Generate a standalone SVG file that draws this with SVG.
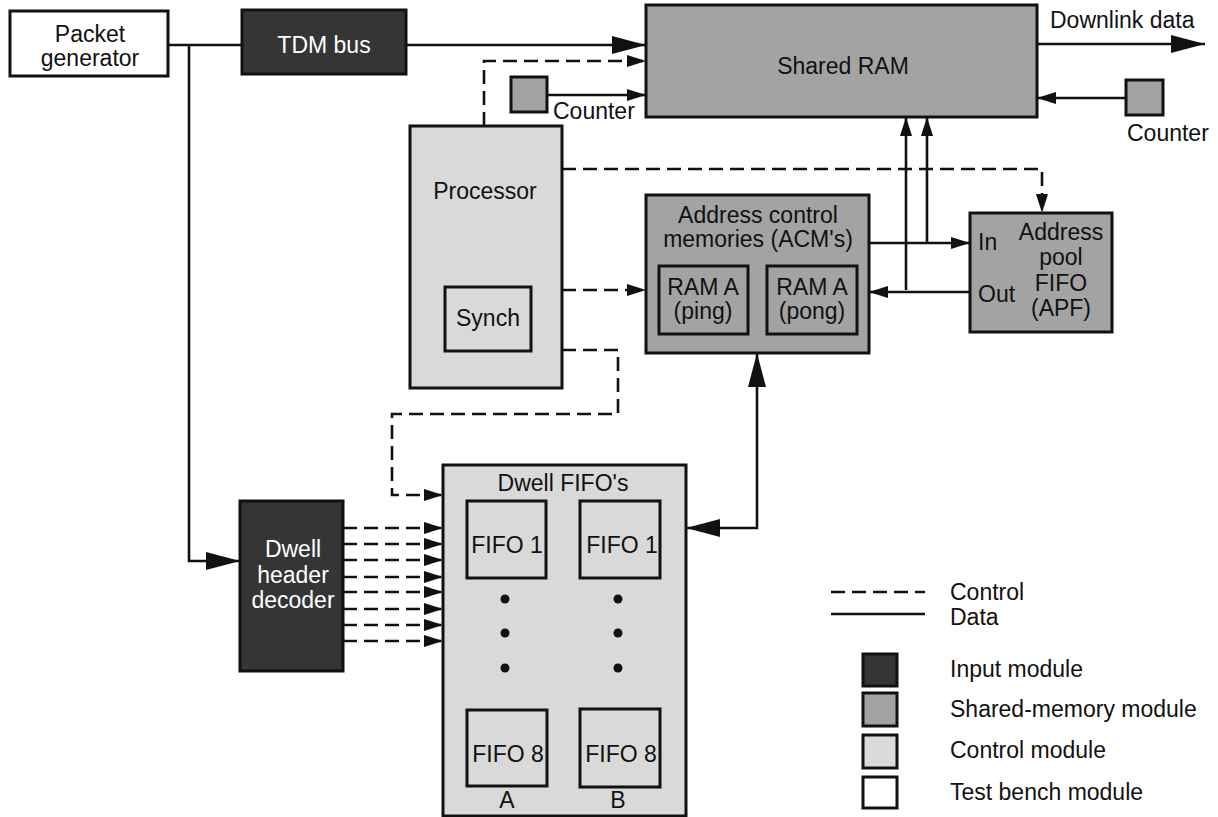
<svg xmlns="http://www.w3.org/2000/svg" width="1218" height="817" viewBox="0 0 1218 817">
  <style>
    text { font-family: "Liberation Sans", Arial, sans-serif; font-size: 23px; fill: #111; }
    .c { text-anchor: middle; }
    .w { fill: #fff; }
    .box { stroke: #111; stroke-width: 3; }
    .in { fill: #353535; }
    .sm { fill: #a3a3a3; }
    .ctl { fill: #d9d9d9; }
    .tb { fill: #fff; }
    .inner { fill: none; stroke: #111; stroke-width: 3; }
    .data { fill: none; stroke: #111; stroke-width: 2.6; }
    .ctrl { fill: none; stroke: #111; stroke-width: 2.6; stroke-dasharray: 14 7; }
  </style>
  <defs>
    <marker id="big" markerUnits="userSpaceOnUse" markerWidth="36" markerHeight="20" refX="34" refY="9" orient="auto-start-reverse">
      <path d="M0,0 L34,9 L0,18 z" fill="#111"/>
    </marker>
    <marker id="small" markerUnits="userSpaceOnUse" markerWidth="22" markerHeight="14" refX="19" refY="6" orient="auto">
      <path d="M0,0 L19,6 L0,12 z" fill="#111"/>
    </marker>
  </defs>

  <rect width="1218" height="817" fill="#fff"/>

  <!-- connectors -->
  <g id="connectors">
    <!-- packet generator feeds -->
    <path class="data" d="M168,45 H242"/>
    <path class="data" d="M189,45 V561 H240" marker-end="url(#big)"/>
    <path class="data" d="M406,45 H646" marker-end="url(#big)"/>
    <path class="data" d="M1037,44 H1205" marker-end="url(#big)"/>
    <!-- counters -->
    <path class="data" d="M547,95 H646" marker-end="url(#small)"/>
    <path class="data" d="M1126,98 H1037" marker-end="url(#small)"/>
    <!-- processor control -->
    <path class="ctrl" d="M484,126 V61 H646" marker-end="url(#small)"/>
    <path class="ctrl" d="M562,169 H1042 V213" marker-end="url(#small)"/>
    <path class="ctrl" d="M562,290 H646" marker-end="url(#small)"/>
    <path class="ctrl" d="M562,350 H618 V414 H392 V495 H443" marker-end="url(#small)"/>
    <!-- ACM / APF / shared RAM -->
    <path class="data" d="M869,243 H970" marker-end="url(#small)"/>
    <path class="data" d="M927,243 V117" marker-end="url(#small)"/>
    <path class="data" d="M970,292 H869" marker-end="url(#small)"/>
    <path class="data" d="M906,290 V117" marker-end="url(#small)"/>
    <!-- ACM to dwell FIFOs, both ways -->
    <path class="data" d="M686,528 H757 V353" marker-start="url(#big)" marker-end="url(#big)"/>
    <!-- decoder outputs -->
    <path class="ctrl" d="M343,528 H443" marker-end="url(#small)"/>
    <path class="ctrl" d="M343,544 H443" marker-end="url(#small)"/>
    <path class="ctrl" d="M343,560 H443" marker-end="url(#small)"/>
    <path class="ctrl" d="M343,577 H443" marker-end="url(#small)"/>
    <path class="ctrl" d="M343,592 H443" marker-end="url(#small)"/>
    <path class="ctrl" d="M343,609 H443" marker-end="url(#small)"/>
    <path class="ctrl" d="M343,625 H443" marker-end="url(#small)"/>
    <path class="ctrl" d="M343,641 H443" marker-end="url(#small)"/>
  </g>

  <g id="packet-generator">
    <rect class="box tb" x="10" y="11" width="158" height="65"/>
    <text class="c" x="90" y="42">Packet</text>
    <text class="c" x="90" y="66">generator</text>
  </g>

  <g id="tdm-bus">
    <rect class="box in" x="242" y="10" width="164" height="64"/>
    <text class="c w" x="324" y="53">TDM bus</text>
  </g>

  <g id="shared-ram">
    <rect class="box sm" x="646" y="5" width="391" height="112"/>
    <text class="c" x="843" y="74">Shared RAM</text>
  </g>

  <g id="counter-left">
    <rect class="box sm" x="511" y="77" width="36" height="35"/>
    <text x="553" y="119">Counter</text>
  </g>

  <g id="counter-right">
    <rect class="box sm" x="1126" y="80" width="37" height="35"/>
    <text x="1127" y="141">Counter</text>
  </g>

  <text id="downlink-label" x="1050" y="28">Downlink data</text>

  <g id="processor">
    <rect class="box ctl" x="410" y="126" width="152" height="262"/>
    <text class="c" x="485" y="199">Processor</text>
    <rect class="inner" x="445" y="287" width="86" height="64"/>
    <text class="c" x="488" y="326">Synch</text>
  </g>

  <g id="acm">
    <rect class="box sm" x="646" y="195" width="223" height="158"/>
    <text class="c" x="758" y="223">Address control</text>
    <text class="c" x="758" y="247">memories (ACM's)</text>
    <rect class="inner" x="659" y="266" width="89" height="68"/>
    <text class="c" x="703" y="295">RAM A</text>
    <text class="c" x="703" y="319">(ping)</text>
    <rect class="inner" x="767" y="266" width="90" height="68"/>
    <text class="c" x="812" y="295">RAM A</text>
    <text class="c" x="812" y="319">(pong)</text>
  </g>

  <g id="apf">
    <rect class="box sm" x="970" y="213" width="142" height="119"/>
    <text x="978" y="250">In</text>
    <text x="978" y="302">Out</text>
    <text class="c" x="1061" y="240">Address</text>
    <text class="c" x="1061" y="265">pool</text>
    <text class="c" x="1061" y="291">FIFO</text>
    <text class="c" x="1061" y="316">(APF)</text>
  </g>

  <g id="dwell-decoder">
    <rect class="box in" x="240" y="501" width="103" height="170"/>
    <text class="c w" x="293" y="557">Dwell</text>
    <text class="c w" x="293" y="583">header</text>
    <text class="c w" x="293" y="608">decoder</text>
  </g>

  <g id="dwell-fifos">
    <rect class="box ctl" x="443" y="465" width="243" height="351"/>
    <text class="c" x="563" y="491">Dwell FIFO's</text>
    <rect class="inner" x="467" y="501" width="79" height="77"/>
    <text class="c" x="507" y="553">FIFO 1</text>
    <rect class="inner" x="580" y="501" width="80" height="77"/>
    <text class="c" x="622" y="553">FIFO 1</text>
    <circle cx="505" cy="599" r="4.5" fill="#111"/>
    <circle cx="505" cy="633" r="4.5" fill="#111"/>
    <circle cx="505" cy="668" r="4.5" fill="#111"/>
    <circle cx="618" cy="599" r="4.5" fill="#111"/>
    <circle cx="618" cy="633" r="4.5" fill="#111"/>
    <circle cx="618" cy="668" r="4.5" fill="#111"/>
    <rect class="inner" x="467" y="710" width="80" height="76"/>
    <text class="c" x="508" y="762">FIFO 8</text>
    <rect class="inner" x="580" y="709" width="80" height="78"/>
    <text class="c" x="621" y="762">FIFO 8</text>
    <text class="c" x="507" y="808">A</text>
    <text class="c" x="618" y="808">B</text>
  </g>

  <g id="legend">
    <path class="ctrl" d="M831,592 H925"/>
    <path class="data" d="M831,614 H925"/>
    <text x="950" y="600">Control</text>
    <text x="950" y="625">Data</text>
    <rect class="box in" x="863" y="654" width="34" height="32"/>
    <text x="950" y="677">Input module</text>
    <rect class="box sm" x="863" y="693" width="34" height="33"/>
    <text x="950" y="717">Shared-memory module</text>
    <rect class="box ctl" x="863" y="735" width="34" height="33"/>
    <text x="950" y="758">Control module</text>
    <rect class="box tb" x="863" y="777" width="34" height="31"/>
    <text x="950" y="800">Test bench module</text>
  </g>
</svg>
